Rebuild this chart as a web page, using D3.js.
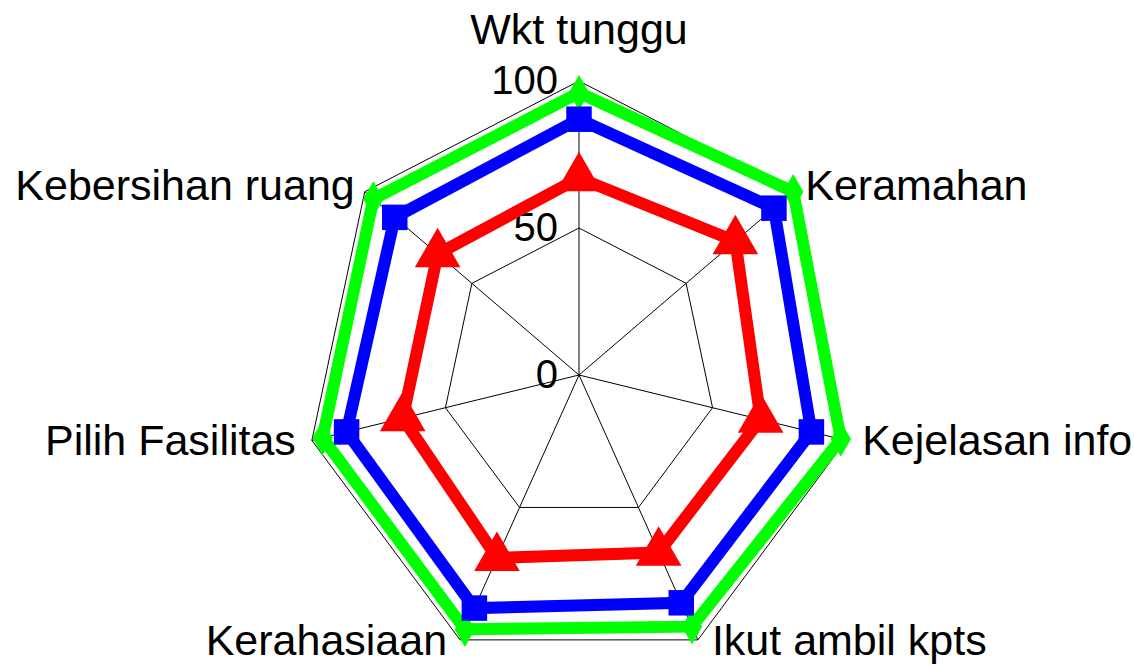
<!DOCTYPE html>
<html>
<head>
<meta charset="utf-8">
<script src="https://cdnjs.cloudflare.com/ajax/libs/d3/7.8.5/d3.min.js"></script>
<style>
  body { margin: 0; background: #fff; }
  text { font-family: "Liberation Sans", Arial, sans-serif; fill: #000; }
</style>
</head>
<body>
<svg id="chart" width="1134" height="670"></svg>
<script>
// kategori (sumbu radar)
var kategori = ["Wkt tunggu", "Keramahan", "Kejelasan info", "Ikut ambil kpts",
  "Kerahasiaan", "Pilih Fasilitas", "Kebersihan ruang"];
var tickVals = [0, 50, 100];
var tickLabels = ["0", "50", "100"];

// nilai per seri
var seriHijau = [96, 100, 98, 95, 96, 96, 96];
var seriBiru = [87, 91, 87, 86, 88, 87, 86];
var seriMerah = [67, 73, 68, 67, 69, 66, 66];

var svg = d3.select("#chart"),
  cx = 579, cy = 375;

// skala radial (gambar sedikit lebih sempit horisontal)
var rx = d3.scaleLinear().domain([0, 100]).range([0, 274]);
var ry = d3.scaleLinear().domain([0, 100]).range([0, 294]);
var sudut = d3.scalePoint().domain(d3.range(kategori.length).concat([kategori.length]))
  .range([0, 2 * Math.PI]);

function titik(i, v) {
  var a = sudut(i);
  return [cx + rx(v) * Math.sin(a), cy - ry(v) * Math.cos(a)];
}

var line = d3.line().curve(d3.curveLinearClosed);

// grid
var grid = svg.append("g");
tickVals.filter(function (t) { return t > 0; }).forEach(function (t) {
  grid.append("path")
    .attr("d", line(kategori.map(function (k, i) { return titik(i, t); })))
    .attr("fill", "none").attr("stroke", "#000").attr("stroke-width", 1);
});
kategori.forEach(function (k, i) {
  var p = titik(i, 100);
  grid.append("line")
    .attr("x1", cx).attr("y1", cy).attr("x2", p[0]).attr("y2", p[1])
    .attr("stroke", "#000").attr("stroke-width", 1);
});

// label tick
svg.selectAll(".tick").data(tickVals).enter().append("text")
  .attr("x", cx - 21)
  .attr("y", function (d) { return titik(0, d)[1] + 13; })
  .attr("text-anchor", "end")
  .style("font-size", "40px")
  .text(function (d, i) { return tickLabels[i]; });

// seri
var seri = [
  { nilai: seriHijau, warna: "#00ff00", marker: "diamond", ukuran: 360 },
  { nilai: seriBiru, warna: "#0000ff", marker: "square", ukuran: 650 },
  { nilai: seriMerah, warna: "#ff0000", marker: "triangle", ukuran: 900 }
];
var simbol = { diamond: d3.symbolDiamond, square: d3.symbolSquare, triangle: d3.symbolTriangle };

seri.forEach(function (s) {
  var pts = s.nilai.map(function (v, i) { return titik(i, v); });
  svg.append("path")
    .attr("d", line(pts))
    .attr("fill", "none")
    .attr("stroke", s.warna)
    .attr("stroke-width", 12)
    .attr("stroke-linejoin", "miter");
  svg.selectAll(null).data(pts).enter().append("path")
    .attr("transform", function (d) { return "translate(" + d[0] + "," + d[1] + ")"; })
    .attr("d", d3.symbol().type(simbol[s.marker]).size(s.ukuran))
    .attr("fill", s.warna);
});

// label kategori
kategori.forEach(function (k, i) {
  var p = titik(i, 100), a = sudut(i), s = Math.sin(a), c = Math.cos(a);
  var x = p[0], y = p[1], anchor = "middle", dy = "0.35em";
  if (i === 0) { y = p[1] - 37; dy = "0"; }
  else if (Math.abs(s) > 0.9) { x += s > 0 ? 16 : -16; anchor = s > 0 ? "start" : "end"; }
  else if (c > 0) { x += s > 0 ? 12 : -10; y -= 7; anchor = s > 0 ? "start" : "end"; }
  else { x += s > 0 ? 14 : -13; y += 15; dy = "0"; anchor = s > 0 ? "start" : "end"; }
  svg.append("text")
    .attr("x", x).attr("y", y).attr("dy", dy)
    .attr("text-anchor", anchor)
    .style("font-size", "43px")
    .text(k);
});
</script>
</body>
</html>
